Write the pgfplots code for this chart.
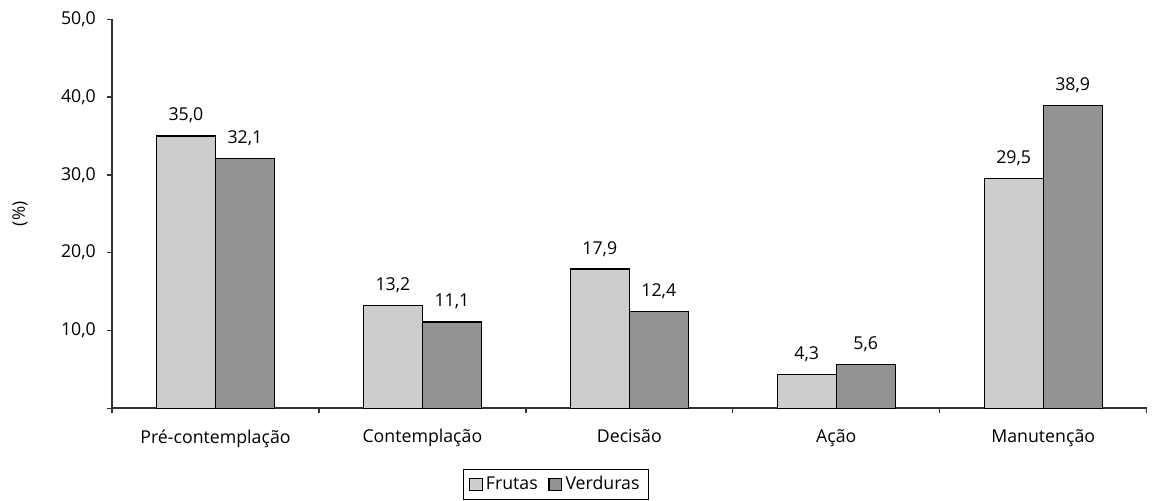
\documentclass[border=0pt]{standalone}
\usepackage{pgfplots}
\pgfplotsset{compat=1.18}
\usepackage{fontspec}
\setmainfont{Open Sans}
\definecolor{lightbar}{HTML}{CDCDCD}
\definecolor{darkbar}{HTML}{939393}
\definecolor{axisgray}{HTML}{333333}
\begin{document}
\fontsize{13.3}{16}\selectfont
\begin{tikzpicture}
\begin{axis}[
  name=ax,
  scale only axis,
  width=776pt, height=291.75pt,
  xmin=-0.5, xmax=4.5,
  ymin=0, ymax=50,
  axis x line=bottom, axis y line=left,
  axis line style={-, axisgray, line width=1.2pt},
  tick align=outside,
  major tick length=3.75pt,
  minor tick length=3.75pt,
  tick style={axisgray, line width=1pt},
  xtick={0,1,2,3,4},
  xticklabels={Pré-contemplação,Contemplação,Decisão,Ação,Manutenção},
  major x tick style={draw=none},
  minor x tick style={draw=axisgray, line width=1pt},
  minor xtick={-0.5,0.5,1.5,2.5,3.5,4.5},
  ytick={0,10,20,30,40,50},
  yticklabels={,{10,0},{20,0},{30,0},{40,0},{50,0}},
  xticklabel style={font=\fontsize{13.3}{16}\selectfont, yshift=-7.5pt},
  yticklabel style={font=\fontsize{13.3}{16}\selectfont, xshift=-3.75pt},
  ylabel={(\%)},
  every axis y label/.style={at={(axis description cs:-0.0889,0.5)}, rotate=90, anchor=center, font=\fontsize{13}{15}\selectfont},
  ybar=0pt,
  bar width=44.25pt,
  nodes near coords,
  /pgf/number format/.cd, fixed, zerofill, precision=1, use comma, assume math mode=true,
  /pgfplots/.cd,
  every node near coord/.append style={font=\fontsize{13.3}{16}\selectfont, anchor=base, yshift=11.25pt, inner sep=0pt, black},
  legend columns=2,
  legend style={at={(axis description cs:0.429,-0.155)}, anchor=north, draw=black, line width=0.8pt,
    font=\fontsize{13.3}{16}\selectfont, inner xsep=4pt, inner ysep=3.5pt,
    nodes={inner xsep=2.5pt, inner ysep=2pt},
    /tikz/every even column/.append style={column sep=5.5pt}},
  legend image code/.code={\draw[#1, line width=0.8pt, draw=black] (0pt,-4.75pt) rectangle (9.5pt,4.75pt);},
  clip=false,
]
\addplot[fill=lightbar, draw=black, line width=1pt] coordinates {(0,35.0) (1,13.2) (2,17.9) (3,4.3) (4,29.5)};
\addplot[fill=darkbar, draw=black, line width=1pt] coordinates {(0,32.1) (1,11.1) (2,12.4) (3,5.6) (4,38.9)};
\legend{Frutas,Verduras}
\end{axis}
\path[use as bounding box] (-84pt,-66pt) rectangle (781.5pt,306.2pt);
\end{tikzpicture}
\end{document}
